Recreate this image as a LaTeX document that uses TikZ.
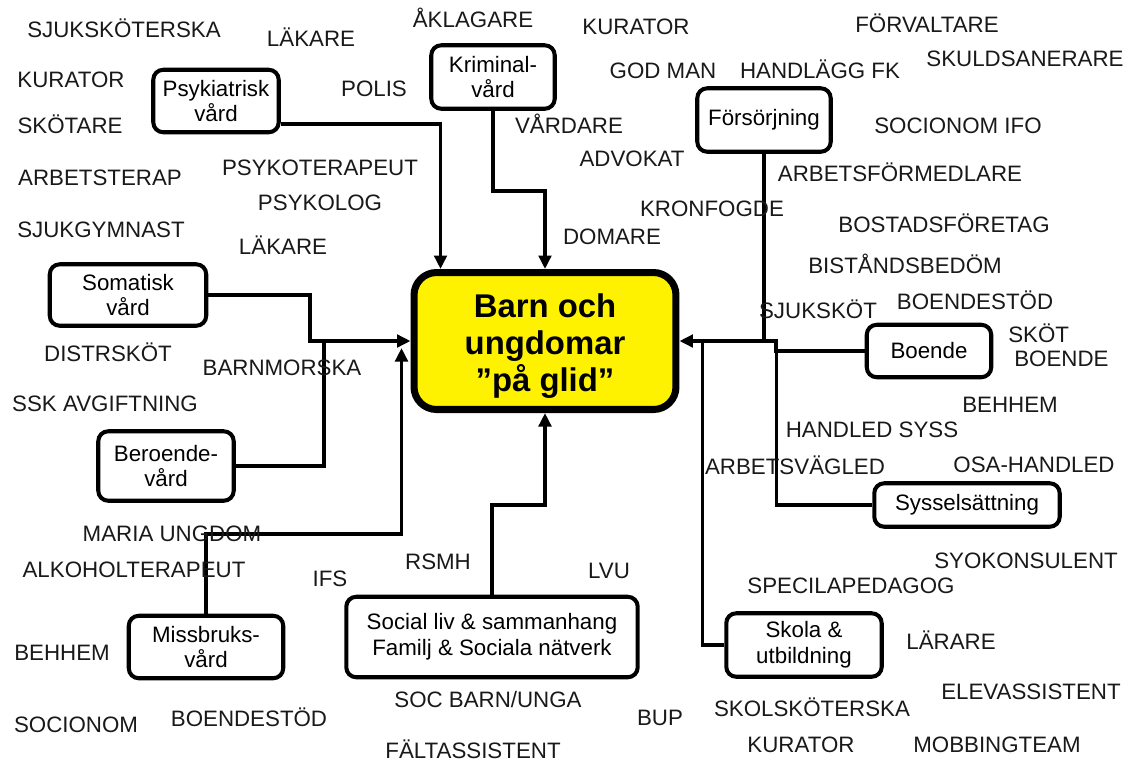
\documentclass[tikz,border=0pt]{standalone}
\usepackage{fontspec}
\setmainfont{Liberation Sans}
\usetikzlibrary{arrows.meta,calc}
\begin{document}
\begin{tikzpicture}[x=0.02cm,y=-0.02cm,
  lbl/.style={font=\fontsize{12.7}{14.7}\selectfont, inner sep=0pt, text=black!90},
  box/.style={draw, line width=2.3pt, rounded corners=0.2cm, align=center,
    font=\fontsize{12.7}{14.7}\selectfont, inner sep=0pt, fill=white},
  conn/.style={line width=2.1pt},
  arr/.style={-{Triangle[length=0.27cm,width=0.25cm]}}
]
\useasboundingbox[fill=white] (0,0) rectangle (1130,762);

% boxes
\node[box, minimum width=2.51cm, minimum height=1.25cm] (psyk) at (216,101) {Psykiatrisk\\vård};
\node[box, minimum width=2.47cm, minimum height=1.27cm] (krim) at (493,77) {Kriminal-\\vård};
\node[box, minimum width=2.67cm, minimum height=1.27cm] (fors) at (764,120) {Försörjning};
\node[box, minimum width=3.13cm, minimum height=1.23cm] (soma) at (128,295) {Somatisk\\vård};
\node[box, minimum width=2.71cm, minimum height=1.39cm] (bero) at (166,466) {Beroende-\\vård};
\node[box, minimum width=2.49cm, minimum height=1.05cm] (boen) at (929,351) {Boende};
\node[box, minimum width=3.71cm, minimum height=0.87cm] (syss) at (967,505) {Sysselsättning};
\node[box, minimum width=3.09cm, minimum height=1.25cm] (miss) at (206,647) {Missbruks-\\vård};
\node[box, minimum width=5.83cm, minimum height=1.61cm] (soc) at (492,637) {Social liv \& sammanhang\\Familj \& Sociala nätverk};
\node[box, minimum width=3.11cm, minimum height=1.27cm] (skola) at (804,645) {Skola \&\\utbildning};
\node[draw, line width=4pt, fill=yellow, rounded corners=0.45cm,
  inner sep=0pt, minimum width=5.24cm, minimum height=2.74cm] (ctr) at (545,341) {};
\node[align=center, inner sep=0pt, font=\bfseries\fontsize{18.7}{21.2}\selectfont]
  (ctrtext) at ($(ctr.center)+(0,5)$) {Barn och\\ungdomar\\”på glid”};

% connectors
\draw[conn,arr] ($(psyk.east)+(0,23)$) -| ($(ctr.north west)+(30,0)$);
\draw[conn,arr] (krim.south) -- ++(0,80) -| (ctr.north);
\draw[conn,arr] (soma.east) -- ++(102,0) |- (ctr.west);
\draw[conn] (bero.east) -- ++(88,0) -- ++(0,-125);
\draw[conn,arr] (miss.north) -- ++(0,-80) -| ($(ctr.west)+(-9,7)$);
\draw[conn,arr] (soc.north) -- ++(0,-90) -| (ctr.south);
\draw[conn] (fors.south) -- ++(0,188);
\draw[conn,arr] (boen.west) -- ++(-89,0) |- (ctr.east);
\draw[conn] (syss.west) -| ($(ctr.east)+(97,0)$);
\draw[conn] (skola.west) -| ($(ctr.east)+(23,0)$);

% labels
\node[lbl] (l1) at (124,28) {SJUKSKÖTERSKA};
\node[lbl] (l2) at (311,37) {LÄKARE};
\node[lbl] (l3) at (473,18) {ÅKLAGARE};
\node[lbl] (l4) at (636,27) {KURATOR};
\node[lbl] (l5) at (927,23) {FÖRVALTARE};
\node[lbl] (l6) at (1025,59) {SKULDSANERARE};
\node[lbl] (l7) at (71,80) {KURATOR};
\node[lbl] (l8) at (374,89) {POLIS};
\node[lbl] (l9) at (663,71) {GOD MAN};
\node[lbl] (l10) at (820,69) {HANDLÄGG FK};
\node[lbl] (l11) at (70,124) {SKÖTARE};
\node[lbl] (l12) at (569,124) {VÅRDARE};
\node[lbl] (l13) at (958,126) {SOCIONOM IFO};
\node[lbl] (l14) at (632,159) {ADVOKAT};
\node[lbl] (l15) at (320,168) {PSYKOTERAPEUT};
\node[lbl] (l16) at (900,172) {ARBETSFÖRMEDLARE};
\node[lbl] (l17) at (100,178) {ARBETSTERAP};
\node[lbl] (l18) at (320,203) {PSYKOLOG};
\node[lbl] (l19) at (712,209) {KRONFOGDE};
\node[lbl] (l20) at (944,223) {BOSTADSFÖRETAG};
\node[lbl] (l21) at (101,230) {SJUKGYMNAST};
\node[lbl] (l22) at (612,237) {DOMARE};
\node[lbl] (l23) at (283,245) {LÄKARE};
\node[lbl] (l24) at (905,264) {BISTÅNDSBEDÖM};
\node[lbl] (l25) at (975,300) {BOENDESTÖD};
\node[lbl] (l26) at (818,309) {SJUKSKÖT};
\node[lbl,anchor=west] (l27) at (1008,333) {SKÖT};
\node[lbl,anchor=west] (l28) at (1014,359) {BOENDE};
\node[lbl] (l29) at (108,352) {DISTRSKÖT};
\node[lbl] (l30) at (282,368) {BARNMORSKA};
\node[lbl] (l31) at (105,404) {SSK AVGIFTNING};
\node[lbl] (l32) at (1010,405) {BEHHEM};
\node[lbl] (l33) at (872,430) {HANDLED SYSS};
\node[lbl] (l34) at (795,465) {ARBETSVÄGLED};
\node[lbl] (l35) at (1034,465) {OSA-HANDLED};
\node[lbl] (l36) at (172,534) {MARIA UNGDOM};
\node[lbl] (l37) at (1026,561) {SYOKONSULENT};
\node[lbl] (l38) at (438,562) {RSMH};
\node[lbl] (l39) at (134,570) {ALKOHOLTERAPEUT};
\node[lbl] (l40) at (609,571) {LVU};
\node[lbl] (l41) at (330,579) {IFS};
\node[lbl] (l42) at (851,586) {SPECILAPEDAGOG};
\node[lbl] (l43) at (951,640) {LÄRARE};
\node[lbl] (l44) at (62,653) {BEHHEM};
\node[lbl] (l45) at (1031,692) {ELEVASSISTENT};
\node[lbl] (l46) at (488,700) {SOC BARN/UNGA};
\node[lbl] (l47) at (812,707) {SKOLSKÖTERSKA};
\node[lbl] (l48) at (249,717) {BOENDESTÖD};
\node[lbl] (l49) at (660,718) {BUP};
\node[lbl] (l50) at (76,725) {SOCIONOM};
\node[lbl] (l51) at (801,745) {KURATOR};
\node[lbl] (l52) at (997,745) {MOBBINGTEAM};
\node[lbl] (l53) at (473,749) {FÄLTASSISTENT};
\end{tikzpicture}
\end{document}
